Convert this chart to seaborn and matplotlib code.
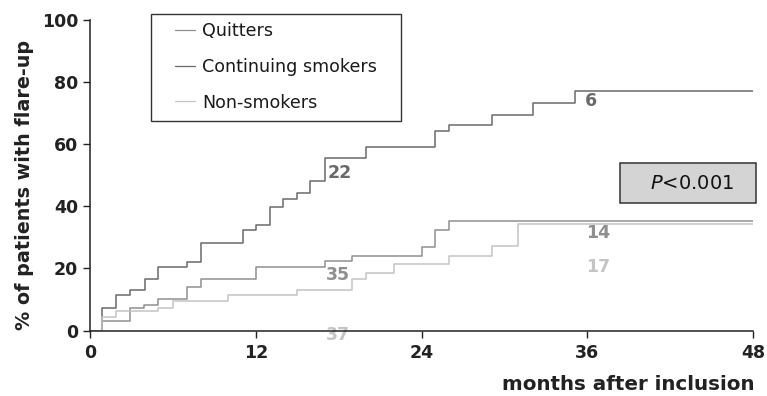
import numpy as np
import pandas as pd
import seaborn as sns
import matplotlib.pyplot as plt
from matplotlib.patches import Rectangle

# step curves (months, % with flare-up)
quit_t = [0, 0.9, 2.9, 3.9, 4.9, 7.0, 8.0, 12.0, 17.0, 19.0, 24.0, 25.0, 26.0, 48]
quit_v = [0, 3.1, 7.2, 8.3, 10.2, 13.9, 16.6, 20.3, 22.3, 24.1, 26.9, 32.3, 35.2, 35.2]

cont_t = [0, 0.9, 1.9, 2.9, 4.0, 4.9, 7.0, 8.0, 11.1, 12.0, 13.0, 14.0, 15.0, 15.9,
          17.0, 20.0, 25.0, 26.0, 29.1, 32.1, 35.1, 48]
cont_v = [0, 7.2, 11.5, 13.2, 16.6, 20.3, 22.2, 28.1, 32.3, 34.1, 39.7, 42.5, 44.2, 48.0,
          55.5, 59.2, 64.1, 66.3, 69.4, 73.2, 77.0, 77.0]

non_t = [0, 0.9, 1.9, 4.9, 6.0, 10.0, 15.0, 19.0, 20.0, 22.0, 26.0, 29.1, 31.0, 48]
non_v = [0, 4.5, 6.4, 7.2, 9.4, 11.3, 13.2, 16.6, 18.4, 21.4, 24.1, 27.1, 34.4, 34.4]

groups = ["Quitters", "Continuing smokers", "Non-smokers"]
colors = {"Quitters": "#8f8f8f", "Continuing smokers": "#6a6a6a", "Non-smokers": "#c4c4c4"}

# numbers at risk labels
risk_text = ["22", "6", "35", "14", "37", "17"]
risk_x = [17.2, 35.8, 17.1, 35.9, 17.1, 35.9]
risk_y = [50.6, 74.0, 18.0, 31.4, -1.5, 20.4]
risk_col = ["#6a6a6a", "#6a6a6a", "#8f8f8f", "#8f8f8f", "#c4c4c4", "#c4c4c4"]

xticks = [0, 12, 24, 36, 48]
yticks = [0, 20, 40, 60, 80, 100]

frames = []
for g, t, v in zip(groups, [quit_t, cont_t, non_t], [quit_v, cont_v, non_v]):
    frames.append(pd.DataFrame({"month": t, "pct": v, "group": g}))
df = pd.concat(frames, ignore_index=True)

sns.set_style("ticks")
plt.rcParams['font.family'] = ['DejaVu Sans']

W, H = 767, 396
fig = plt.figure(figsize=(W / 100, H / 100), dpi=100)
ax = fig.add_axes([90 / W, 1 - 330.5 / H, 663 / W, 310.5 / H])

sns.lineplot(data=df, x="month", y="pct", hue="group", hue_order=groups,
             palette=colors, estimator=None, sort=False, drawstyle="steps-post",
             linewidth=1.1, ax=ax)

ax.set_xlim(0, 48)
ax.set_ylim(0, 100)
ax.set_xticks(xticks)
ax.set_yticks(yticks)
ax.tick_params(axis="both", direction="out", length=5, width=1, colors="#222222",
               labelsize=12.5)
ax.tick_params(axis="x", pad=5)
for lab in ax.get_xticklabels() + ax.get_yticklabels():
    lab.set_fontweight("bold")
sns.despine(ax=ax)
for s in ["left", "bottom"]:
    ax.spines[s].set_linewidth(1.1)
    ax.spines[s].set_color("#222222")

ax.set_xlabel("")
ax.set_ylabel("% of patients with flare-up", fontsize=13.8, fontweight="bold",
              color="#222222")
ax.yaxis.set_label_coords(-0.085, 0.47)
fig.text(755 / W, 2 / H, "months after inclusion", ha="right", va="bottom",
         fontsize=14.3, fontweight="bold", color="#222222")

for txt, x, y, c in zip(risk_text, risk_x, risk_y, risk_col):
    ax.text(x, y, txt, color=c, fontsize=12.5, fontweight="bold", ha="left",
            va="center", clip_on=False, zorder=1)

# P value box
ax.add_patch(Rectangle((38.35, 41.2), 9.85, 12.6, fc="#d4d4d4", ec="#333333", lw=1.1,
                       clip_on=False, zorder=3))
ax.text(43.6, 47.3, "$\\mathit{P}$<0.001", ha="center", va="center", fontsize=14,
        color="#111111", zorder=4)

# legend with a hand-placed frame
handles, labels = ax.get_legend_handles_labels()
leg = ax.legend(handles, labels, loc="upper left",
                bbox_to_anchor=(175 / W, 1 - 22.5 / H),
                bbox_transform=fig.transFigure, frameon=False,
                fontsize=12.6, handlelength=1.15, handletextpad=0.38, borderpad=0,
                labelspacing=1.0, borderaxespad=0)
for t in leg.get_texts():
    t.set_color("#1a1a1a")
for line in leg.get_lines():
    line.set_linewidth(0.9)
fig.patches.append(Rectangle((151 / W, 1 - 121 / H), 250 / W, 107 / H,
                             transform=fig.transFigure, fill=False,
                             ec="#333333", lw=1.0))

fig.savefig("out.png", dpi=100)
